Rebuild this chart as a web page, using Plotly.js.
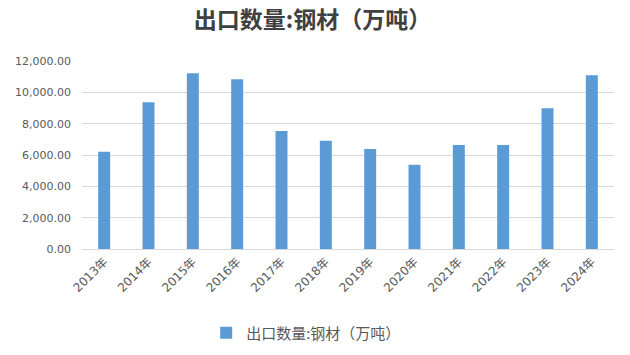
<!DOCTYPE html>
<html>
<head>
<meta charset="utf-8">
<script src="https://cdn.plot.ly/plotly-3.0.1.min.js"></script>
<style>html,body{margin:0;padding:0;background:#fff;}#chart{width:630px;height:355px;}</style>
</head>
<body>
<div id="chart"></div>
<script>
var years = ["2013年","2014年","2015年","2016年","2017年","2018年","2019年","2020年","2021年","2022年","2023年","2024年"];
var exportSteel = [6200, 9370, 11220, 10840, 7530, 6910, 6390, 5370, 6640, 6640, 8990, 11090];
var seriesName = "出口数量:钢材（万吨）";
var yTicks = [0, 2000, 4000, 6000, 8000, 10000, 12000];

var trace = {
  type: "bar",
  x: years,
  y: exportSteel,
  name: seriesName,
  marker: {color: "#5b9bd5"},
  width: 0.27,
  showlegend: true,
  hoverinfo: "x+y"
};

var layout = {
  width: 630,
  height: 355,
  margin: {l: 82, r: 16, t: 61, b: 106},
  paper_bgcolor: "#ffffff",
  plot_bgcolor: "#ffffff",
  title: {
    text: "<b>" + seriesName + "</b>",
    font: {family: "Noto Sans CJK SC", size: 23, color: "#404040"},
    x: 0.496, xref: "container", xanchor: "center",
    y: 0.944, yref: "container", yanchor: "middle"
  },
  xaxis: {
    type: "category",
    tickangle: -45,
    tickfont: {family: "DejaVu Sans, Noto Sans CJK SC", size: 12, color: "#595959"},
    showline: true,
    linecolor: "#d9d9d9",
    linewidth: 1,
    ticks: "",
    showgrid: false,
    zeroline: false
  },
  yaxis: {
    range: [0, 12000],
    tickvals: yTicks,
    tickformat: ",.2f",
    tickfont: {family: "DejaVu Sans", size: 11, color: "#595959"},
    gridcolor: "#d9d9d9",
    gridwidth: 1,
    zeroline: false,
    showline: false,
    ticks: "",
    ticklabelstandoff: 10
  },
  legend: {
    orientation: "h",
    xref: "container", yref: "container",
    x: 0.486, xanchor: "center",
    y: 0.062, yanchor: "middle",
    font: {family: "Noto Sans CJK SC", size: 15, color: "#595959"}
  },
  bargap: 0.73
};

Plotly.newPlot("chart", [trace], layout, {displayModeBar: false, staticPlot: true});
</script>
</body>
</html>
